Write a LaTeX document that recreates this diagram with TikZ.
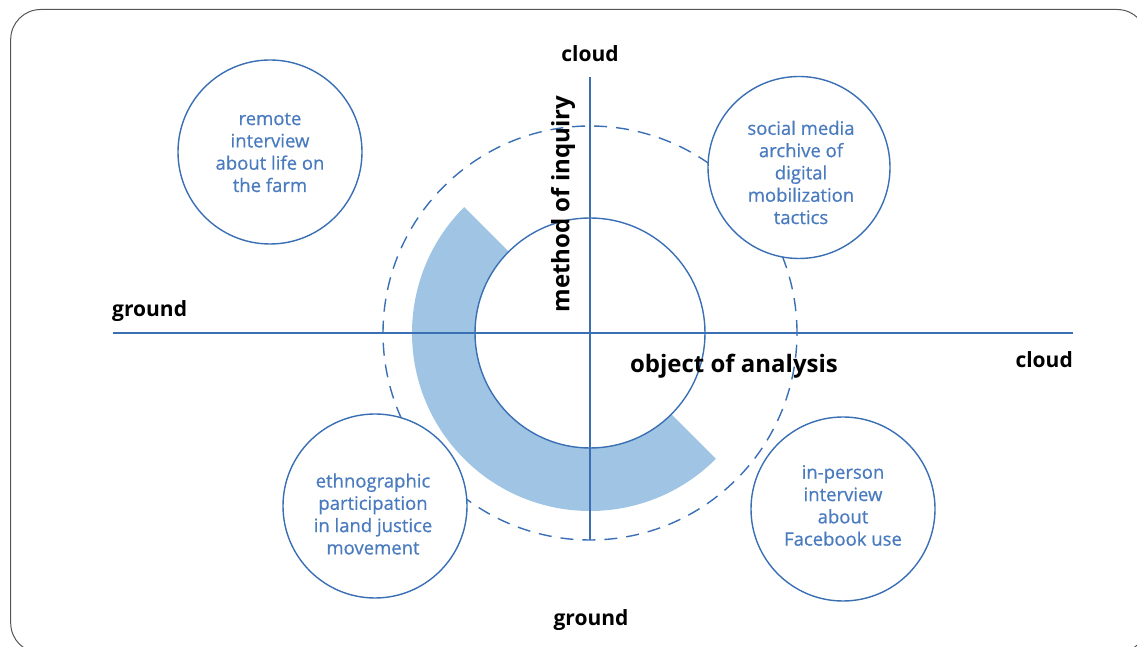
\documentclass[tikz,border=0pt]{standalone}
\usepackage{fontspec}
\setmainfont{Open Sans}
\newfontfamily\topicfont{Open Sans}[FakeBold=0.6]
\usetikzlibrary{calc}
\definecolor{axisblue}{HTML}{3A6FB4}
\definecolor{textblue}{HTML}{4A7BBF}
\definecolor{ringfill}{HTML}{A0C5E4}
\definecolor{framegray}{HTML}{555555}
\tikzset{
  topic/.style={circle, draw=axisblue, line width=1.4pt, fill=white, minimum size=#1, inner sep=0pt},
  topictext/.style={text=textblue, align=center, inner sep=0pt, font=\topicfont\fontsize{18.5}{22.3}\selectfont},
  axislabel/.style={font=\fontsize{21}{24}\selectfont\bfseries, text=black, inner sep=0pt},
  biglabel/.style={font=\fontsize{24}{27}\selectfont\bfseries, text=black, inner sep=0pt},
  axisline/.style={draw=axisblue, line width=1.4pt},
}
\begin{document}
\begin{tikzpicture}[x=1pt,y=1pt]
\useasboundingbox (0,0) rectangle (1137,647);
\clip (0,0) rectangle (1137,647);
\draw[framegray, line width=1pt, rounded corners=30pt] (10.7,637.5) rectangle (1147,-6);
\coordinate (C) at (590,314);
% shaded ring
\fill[ringfill] ($(C)+(135:178)$) arc[start angle=135, end angle=315, radius=178]
  -- ($(C)+(315:115)$) arc[start angle=315, end angle=135, radius=115] -- cycle;
% dashed circle
\draw[axisblue, line width=1.4pt, dash pattern=on 13pt off 9pt] (C) circle[radius=207];
% axes
\coordinate (xl) at (113,314);
\coordinate (xr) at (1073,314);
\coordinate (yt) at (590,570);
\coordinate (yb) at (590,107);
\draw[axisline] (xl) -- (xr);
\draw[axisline] (yt) -- (yb);
% inner circle
\node[circle, draw=axisblue, line width=1.4pt, minimum size=230pt, inner sep=0pt] (inner) at (C) {};
% topic circles
\node[topic=184pt] (remote) at (270,495) {};
\node[topic=182pt] (social) at (799,479.5) {};
\node[topic=184pt] (ethno) at (375,141) {};
\node[topic=184pt] (inperson) at (843,138) {};
\node[topictext] (remote-t) at (270,494.5) {remote\\interview\\about life on\\the farm};
\node[topictext] (social-t) at (801,474.5) {social media\\archive of\\digital\\mobilization\\tactics};
\node[topictext] (ethno-t) at (373,133) {ethnographic\\participation\\in land justice\\movement};
\node[topictext] (inperson-t) at (843,141.5) {in-person\\interview\\about\\Facebook use};
% axis labels
\node[axislabel] (cloudtop) at (590,593) {cloud};
\node[axislabel, anchor=west] (groundleft) at (112,336) {ground};
\node[axislabel, anchor=east] (cloudright) at (1073,287) {cloud};
\node[axislabel] (groundbottom) at (591,27) {ground};
\node[biglabel, rotate=90] (method) at (563,443) {method of inquiry};
\node[biglabel] (object) at (734,281) {object of analysis};
\end{tikzpicture}
\end{document}
